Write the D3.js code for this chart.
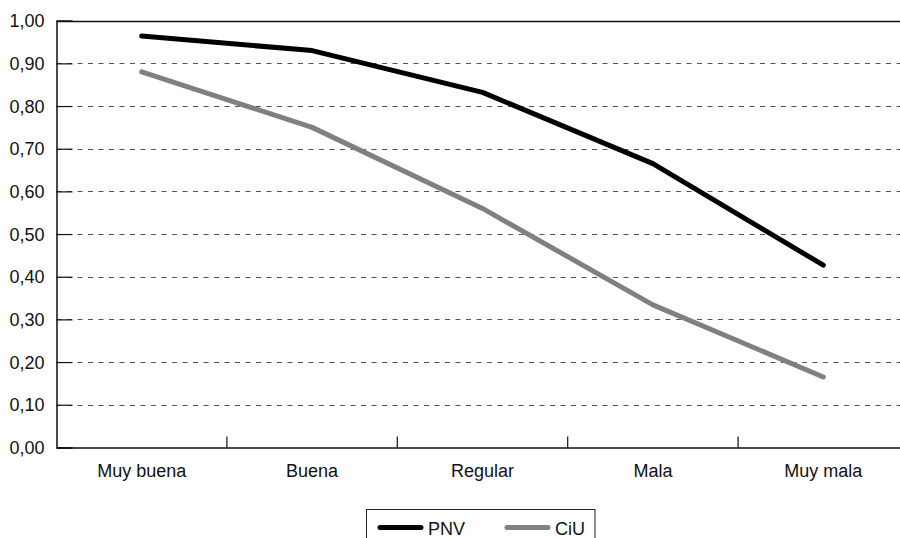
<!DOCTYPE html>
<html><head><meta charset="utf-8">
<script src="https://cdn.jsdelivr.net/npm/d3@7"></script>
<style>body{margin:0;background:#fff}svg{display:block}text{font-family:"Liberation Sans",Arial,sans-serif}</style>
</head><body>
<svg id="c" width="900" height="538"></svg>
<script>
const categories = ["Muy buena","Buena","Regular","Mala","Muy mala"];
const pnv = [0.964, 0.930, 0.832, 0.665, 0.427];
const ciu = [0.880, 0.750, 0.560, 0.334, 0.165];
const yTicks = [0,0.1,0.2,0.3,0.4,0.5,0.6,0.7,0.8,0.9,1.0];
const seriesNames = ["PNV","CiU"];
const seriesColors = ["#000000","#808080"];

const svg = d3.select("#c");
const L = 56.5, R = 908.5, T = 20.7, B = 447.4;
const x = d3.scaleBand().domain(categories).range([L, R]);
const y = d3.scaleLinear().domain([0,1]).range([B, T]);
const fmt = v => v.toFixed(2).replace(".", ",");

// gridlines
svg.append("g").selectAll("line").data(yTicks.filter(v => v > 0 && v < 1)).join("line")
  .attr("x1", L).attr("x2", 900).attr("y1", d => Math.round(y(d)) + 0.5).attr("y2", d => Math.round(y(d)) + 0.5)
  .attr("stroke", "#555").attr("stroke-width", 1).attr("stroke-dasharray", "5,5.5");
// top border
svg.append("line").attr("x1", L).attr("x2", 900).attr("y1", Math.round(T)+0.5).attr("y2", Math.round(T)+0.5)
  .attr("stroke", "#111").attr("stroke-width", 1.5);

// y axis
const yAxis = d3.axisRight(y).tickValues(yTicks).tickSize(16).tickFormat("");
const gy = svg.append("g").attr("transform", `translate(${L},0)`).call(yAxis);
gy.select(".domain").attr("stroke", "#111").attr("stroke-width", 1.5);
gy.selectAll(".tick line").attr("stroke", "#111").attr("stroke-width", 1.2);
svg.append("g").selectAll("text").data(yTicks).join("text")
  .attr("x", 44.5).attr("y", d => y(d)).attr("dy", "0.36em").attr("text-anchor", "end")
  .attr("font-size", 18).attr("fill", "#111").text(fmt);

// x axis
const xAxis = d3.axisBottom(x).tickSize(0).tickFormat("");
const gx = svg.append("g").attr("transform", `translate(0,${B})`).call(xAxis);
gx.select(".domain").attr("stroke", "#111").attr("stroke-width", 1.5);
svg.append("g").selectAll("line").data(categories.slice(1)).join("line")
  .attr("x1", d => x(d)).attr("x2", d => x(d)).attr("y1", B).attr("y2", B - 11)
  .attr("stroke", "#111").attr("stroke-width", 1.2);
svg.append("g").selectAll("text").data(categories).join("text")
  .attr("x", d => x(d) + x.bandwidth()/2).attr("y", 477).attr("text-anchor", "middle")
  .attr("font-size", 18).attr("fill", "#111").text(d => d);

// lines
const line = d3.line().x((d,i) => x(categories[i]) + x.bandwidth()/2).y(d => y(d));
[pnv, ciu].forEach((s, k) => {
  svg.append("path").datum(s).attr("d", line).attr("fill", "none")
    .attr("stroke", seriesColors[k]).attr("stroke-width", 5)
    .attr("stroke-linecap", "round").attr("stroke-linejoin", "round");
});

// legend
const lg = svg.append("g");
lg.append("rect").attr("x", 366.5).attr("y", 509.5).attr("width", 228.5).attr("height", 40)
  .attr("fill", "#fff").attr("stroke", "#222").attr("stroke-width", 1);
const lx = [380, 507];
seriesNames.forEach((n, k) => {
  lg.append("line").attr("x1", lx[k]).attr("x2", lx[k] + 41).attr("y1", 527.5).attr("y2", 527.5)
    .attr("stroke", seriesColors[k]).attr("stroke-width", 5).attr("stroke-linecap", "round");
  lg.append("text").attr("x", lx[k] + 48).attr("y", 534.5).attr("font-size", 18).attr("fill", "#111").text(n);
});
</script>
</body></html>
